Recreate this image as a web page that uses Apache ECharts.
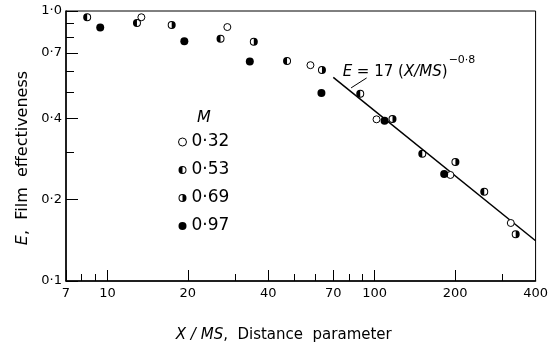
<!DOCTYPE html>
<html>
<head>
<meta charset="utf-8">
<script src="https://cdn.jsdelivr.net/npm/echarts@6/dist/echarts.min.js"></script>
<style>
  html, body { margin: 0; padding: 0; background: #fff; }
  #chart { width: 551px; height: 348px; }
</style>
</head>
<body>
<div id="chart"></div>
<script>
// Mach number groups (legend labels)
const mLabels = ["0·32", "0·53", "0·69", "0·97"];

// [X/MS, E]
const m032 = [[13.4, 0.948], [28.1, 0.872], [57.5, 0.630], [101.6, 0.397], [192, 0.247], [323, 0.164]];
const m053 = [[8.4, 0.948], [12.9, 0.902], [26.5, 0.790], [47.0, 0.653], [88.3, 0.494], [150.7, 0.296], [257, 0.214]];
const m069 = [[17.4, 0.887], [35.3, 0.769], [63.5, 0.604], [116.6, 0.398], [200.5, 0.276], [337, 0.149]];
const m097 = [[9.4, 0.869], [19.4, 0.773], [34.1, 0.650], [63.2, 0.497], [108.9, 0.392], [182, 0.249]];

// correlation line E = 17 (X/MS)^-0.8, end points
const fitLine = [[70, 0.568], [400, 0.141]];
const leader = [[81.6, 0.519], [93.3, 0.565]];

// ticks
const xMajor = [7, 10, 20, 40, 70, 100, 200, 400];
const xMinor = [8, 9, 30, 50, 60, 80, 90, 300];
const yMajor = [0.1, 0.2, 0.4, 0.7, 1.0];
const yMinor = [0.3, 0.5, 0.6, 0.8, 0.9];

const FONT = "DejaVu Sans";
// ring with left half filled / right half filled
const leftHalf = "path://M10,0A10,10 0 1,1 10,20A10,10 0 1,1 10,0ZM10,2.5L10,17.5A7.5,7.5 0 0,0 10,2.5Z";
const rightHalf = "path://M10,0A10,10 0 1,1 10,20A10,10 0 1,1 10,0ZM10,17.5L10,2.5A7.5,7.5 0 0,0 10,17.5Z";

const chart = echarts.init(document.getElementById("chart"));

const dot = (v) => v.toFixed(1).replace(".", "·");

const option = {
  animation: false,
  grid: { left: 66, right: 10, top: 11, bottom: 63, show: true, borderColor: "#000", borderWidth: 1 },
  legend: {
    orient: "vertical",
    left: 173,
    top: 127,
    itemWidth: 8,
    itemHeight: 8,
    itemGap: 8,
    textStyle: { fontFamily: FONT, fontSize: 17, color: "#000", lineHeight: 20 },
    data: [
      { name: mLabels[0], icon: "circle", itemStyle: { color: "#fff", borderColor: "#000", borderWidth: 1 } },
      { name: mLabels[1], icon: leftHalf },
      { name: mLabels[2], icon: rightHalf },
      { name: mLabels[3], icon: "circle" },
    ],
  },
  xAxis: [
    {
      type: "log",
      min: 7,
      max: 400,
      position: "bottom",
      axisLine: { show: true, lineStyle: { color: "#000", width: 1.5 } },
      axisTick: { show: true, inside: true, length: 11, customValues: xMajor, lineStyle: { color: "#000" } },
      axisLabel: { customValues: xMajor, fontFamily: FONT, fontSize: 13, color: "#000", margin: 6 },
      splitLine: { show: false },
      name: "{i|X / MS},  Distance  parameter",
      nameLocation: "middle",
      nameGap: 47,
      nameTextStyle: {
        fontFamily: FONT,
        fontSize: 15,
        color: "#000",
        padding: [0, 34, 0, 0],
        rich: { i: { fontFamily: FONT, fontSize: 15, fontStyle: "italic", color: "#000" } },
      },
    },
    {
      type: "log",
      min: 7,
      max: 400,
      position: "bottom",
      axisLine: { show: false },
      axisTick: { show: true, inside: true, length: 7, customValues: xMinor, lineStyle: { color: "#000" } },
      axisLabel: { show: false },
      splitLine: { show: false },
    },
  ],
  yAxis: [
    {
      type: "log",
      min: 0.1,
      max: 1,
      position: "left",
      axisLine: { show: true, lineStyle: { color: "#000", width: 1.5 } },
      axisTick: { show: true, inside: true, length: 12, customValues: yMajor, lineStyle: { color: "#000" } },
      axisLabel: { customValues: yMajor, formatter: dot, fontFamily: FONT, fontSize: 13, color: "#000", margin: 4 },
      splitLine: { show: false },
      name: "{i|E},  Film  effectiveness",
      nameLocation: "middle",
      nameGap: 34,
      nameRotate: 90,
      nameTextStyle: {
        fontFamily: FONT,
        fontSize: 16,
        color: "#000",
        padding: [0, 24, 0, 0],
        rich: { i: { fontFamily: FONT, fontSize: 16, fontStyle: "italic", color: "#000" } },
      },
    },
    {
      type: "log",
      min: 0.1,
      max: 1,
      position: "left",
      axisLine: { show: false },
      axisTick: { show: true, inside: true, length: 8, customValues: yMinor, lineStyle: { color: "#000" } },
      axisLabel: { show: false },
      splitLine: { show: false },
    },
  ],
  series: [
    {
      type: "line",
      data: fitLine,
      showSymbol: false,
      lineStyle: { color: "#000", width: 1.5 },
      silent: true,
      z: 1,
    },
    {
      type: "line",
      data: leader,
      showSymbol: false,
      lineStyle: { color: "#000", width: 1 },
      silent: true,
      z: 1,
    },
    {
      name: mLabels[0],
      type: "scatter",
      data: m032,
      symbol: "circle",
      symbolSize: 7,
      itemStyle: { color: "#fff", borderColor: "#000", borderWidth: 1, opacity: 1 },
      z: 3,
    },
    {
      name: mLabels[1],
      type: "scatter",
      data: m053,
      symbol: leftHalf,
      symbolSize: 8,
      itemStyle: { color: "#000", opacity: 1 },
      z: 3,
    },
    {
      name: mLabels[2],
      type: "scatter",
      data: m069,
      symbol: rightHalf,
      symbolSize: 8,
      itemStyle: { color: "#000", opacity: 1 },
      z: 3,
    },
    {
      name: mLabels[3],
      type: "scatter",
      data: m097,
      symbol: "circle",
      symbolSize: 8,
      itemStyle: { color: "#000", opacity: 1 },
      z: 3,
    },
  ],
};

chart.setOption(option);

// annotation text anchored to the top of the leader line, legend heading
const tip = chart.convertToPixel({ gridIndex: 0 }, leader[1]);
chart.setOption({
  graphic: [
    {
      type: "text",
      x: tip[0] - 24,
      y: tip[1] - 6,
      style: {
        text: "{i|E} = 17 ({i|X/MS})",
        font: "15px " + FONT,
        fill: "#000",
        verticalAlign: "middle",
        rich: { i: { fontStyle: "italic", fontSize: 15, fontFamily: FONT } },
      },
    },
    {
      type: "text",
      x: tip[0] + 82,
      y: tip[1] - 18,
      style: { text: "−0·8", font: "11px " + FONT, fill: "#000", verticalAlign: "middle" },
    },
    {
      type: "text",
      x: 197,
      y: 118,
      style: { text: "M", font: "italic 16px " + FONT, fill: "#000", verticalAlign: "middle" },
    },
  ],
});

window.addEventListener("resize", () => chart.resize());
</script>
</body>
</html>
